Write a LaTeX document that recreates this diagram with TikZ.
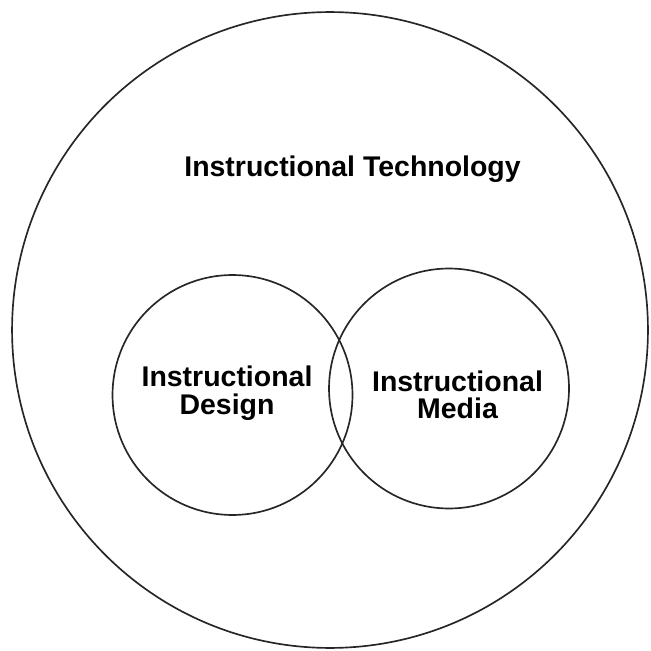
\documentclass[tikz,border=0pt]{standalone}
\usepackage{fontspec}
\setmainfont{Liberation Sans}
\begin{document}
\begin{tikzpicture}[x=0.02cm,y=-0.02cm]
	\tikzset{ring/.style={line width=0.95pt,black!85},
		lbl/.style={font=\bfseries\fontsize{16.2}{15.6}\selectfont,align=center,anchor=base,inner sep=0pt}}
	\useasboundingbox (0,0) rectangle (650,651);
	
	\coordinate (T) at (330,330);
	\coordinate (D) at (232.5,395);
	\coordinate (M) at (449,388.5);
	
	\draw[ring] (T) circle[radius=6.36cm];
	\draw[ring] (D) circle[radius=2.4cm];
	\draw[ring] (M) circle[radius=2.4cm];
	
	\node[lbl] (tech) at (352.5,177) {Instructional Technology};
	\node[lbl] (design) at (227,414) {Instructional\\Design};
	\node[lbl] (media) at (457.5,418.5) {Instructional\\Media};
	
\end{tikzpicture}
\end{document}
